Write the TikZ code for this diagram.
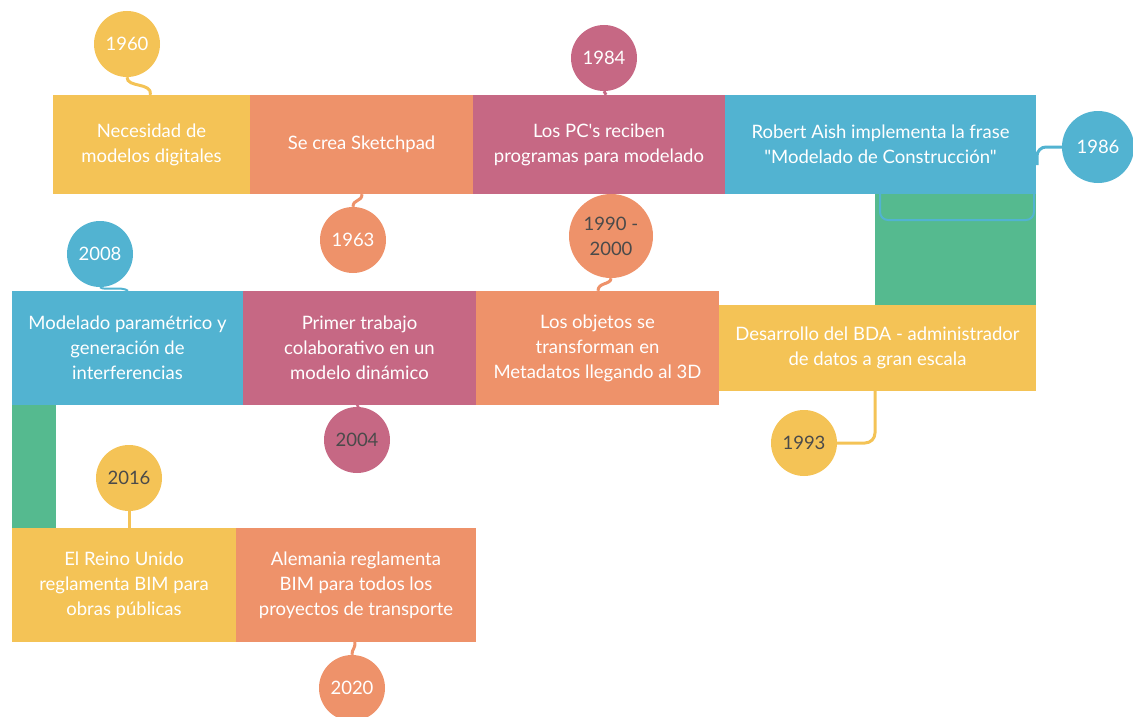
\documentclass[tikz,border=0pt]{standalone}
\usepackage{fontspec}
\setmainfont{Lato}[Ligatures=TeXOff]
\definecolor{cyel}{HTML}{F4C356}
\definecolor{cora}{HTML}{EE926A}
\definecolor{cpnk}{HTML}{C66884}
\definecolor{cblu}{HTML}{52B3D1}
\definecolor{cgrn}{HTML}{55BA8F}
\definecolor{cdark}{HTML}{4A4A4A}
\begin{document}
\begin{tikzpicture}[x=1pt,y=-1pt,
  box/.style={rectangle, inner sep=0pt, text=white, align=center,
    font=\fontsize{18.5}{25}\selectfont},
  year/.style={circle, inner sep=0pt, minimum size=66pt, align=center,
    font=\fontsize{18.5}{25}\selectfont},
  tail/.style={line width=3pt}]
\useasboundingbox (0,0) rectangle (1133,717);

% green links between the rows
\fill[cgrn] (875,193) rectangle (1036,306);
\fill[cgrn] (12,404) rectangle (56,529);
\draw[cblu, line width=2pt, rounded corners=8pt] (880,194) -- (880,220) -- (1034,220) -- (1034,194);

% first row
\node[box, fill=cyel, minimum width=197pt, minimum height=99pt] (b1) at (151.5,144.5) {Necesidad de\\modelos digitales};
\node[box, fill=cora, minimum width=223pt, minimum height=99pt] (b2) at (361.5,144.5) {Se crea Sketchpad};
\node[box, fill=cpnk, minimum width=252pt, minimum height=99pt] (b3) at (599,144.5) {Los PC's reciben\\programas para modelado};
\node[box, fill=cblu, minimum width=311pt, minimum height=99pt] (b4) at (880.5,144.5) {Robert Aish implementa la frase\\"Modelado de Construcción"};

% second row
\node[box, fill=cblu, minimum width=231pt, minimum height=114pt] (b5) at (127.5,348) {Modelado paramétrico y\\generación de\\interferencias};
\node[box, fill=cpnk, minimum width=233pt, minimum height=114pt] (b6) at (359.5,348) {Primer trabajo\\colaborativo en un\\modelo dinámico};
\node[box, fill=cora, minimum width=243pt, minimum height=114pt] (b7) at (597.5,348) {Los objetos se\\transforman en\\Metadatos llegando al 3D};
\node[box, fill=cyel, minimum width=317pt, minimum height=86pt] (b8) at (877.5,348) {Desarrollo del BDA - administrador\\de datos a gran escala};

% third row
\node[box, fill=cyel, minimum width=224pt, minimum height=114pt] (b9) at (124,585) {El Reino Unido\\reglamenta BIM para\\obras públicas};
\node[box, fill=cora, minimum width=240pt, minimum height=114pt] (b10) at (356,585) {Alemania reglamenta\\BIM para todos los\\proyectos de transporte};

% year bubbles
\node[year, fill=cyel, text=white] (y1960) at (127,44) {1960};
\node[year, fill=cora, text=white] (y1963) at (353,240) {1963};
\node[year, fill=cpnk, text=white] (y1984) at (604,58) {1984};
\node[year, fill=cblu, text=white, minimum size=72pt] (y1986) at (1098,147) {1986};
\node[year, fill=cora, text=cdark, minimum size=84pt] (y1990) at (611,236) {1990 -\\2000};
\node[year, fill=cblu, text=white] (y2008) at (100,254) {2008};
\node[year, fill=cpnk, text=cdark] (y2004) at (357,440) {2004};
\node[year, fill=cyel, text=cdark] (y1993) at (804,443) {1993};
\node[year, fill=cyel, text=cdark] (y2016) at (129,478) {2016};
\node[year, fill=cora, text=white] (y2020) at (352,688) {2020};

% stems joining bubbles and boxes
\draw[tail, cyel] (y1960.south) .. controls (127,88) and (152,82) .. ([xshift=-1pt]b1.north);
\draw[tail, cora] ([xshift=0.5pt]b2.north |- b2.south) .. controls (362,202) and (353,199) .. (y1963.north);
\draw[tail, cpnk] (y1984.south) -- ([xshift=7pt]b3.north);
\coordinate (k1986) at (1037,165);
\draw[tail, cblu, rounded corners=9pt] (k1986) -- (1037,147) -- (y1986.west);
\draw[tail, cora] (y1990.south) .. controls (611,285) and (598,282) .. ([xshift=0.5pt]b7.north);
\draw[tail, cblu, line width=2pt] (y2008.south) .. controls (104,291) and (122,286) .. ([xshift=0.5pt]b5.north);
\draw[tail, cpnk] ([xshift=-1pt]b6.south) -- (y2004.north);
\coordinate (k1993) at (875,391);
\draw[tail, cyel, rounded corners=10pt] (k1993) -- (875,443) -- (y1993.east);
\draw[tail, cyel] (y2016.south) -- (b9.north -| y2016.south);
\draw[tail, cora] ([xshift=-1pt]b10.south) .. controls (355,650) and (352,648) .. (y2020.north);
\end{tikzpicture}
\end{document}
